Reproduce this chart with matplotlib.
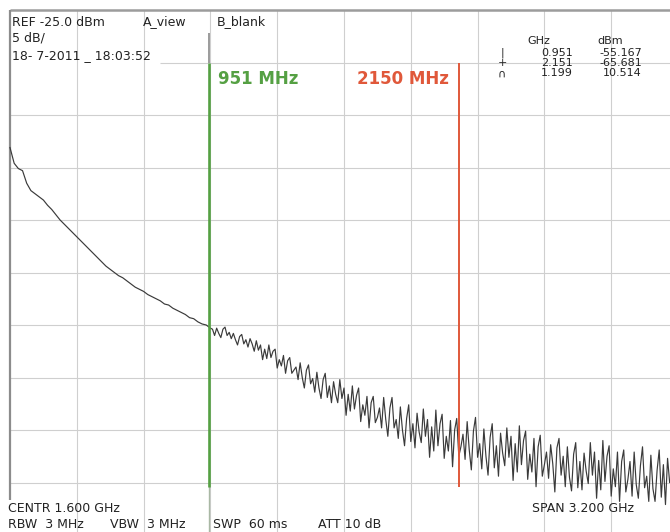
import numpy as np
import matplotlib.pyplot as plt

# --------------------------------------------------------------------------- #
# Analyzer settings / data.
# --------------------------------------------------------------------------- #
REF_DBM = -25.0
DB_PER_DIV = 5.0
N_DIV_Y = 9
SPAN_GHZ = 3.2
N_DIV_X = 10

# smooth roll-off: sweep points 0.00 .. 0.96 GHz every 0.02 GHz
ROLLOFF_START, ROLLOFF_STEP = 0.00, 0.02
rolloff_dbm = [
    -38.1, -39.6, -40.1, -40.3, -41.5, -42.2, -42.5, -42.8, -43.1, -43.6,
    -44.0, -44.5, -45.0, -45.4, -45.8, -46.2, -46.6, -47.0, -47.4, -47.8,
    -48.2, -48.6, -49.0, -49.4, -49.7, -50.0, -50.3, -50.5, -50.8, -51.1,
    -51.4, -51.6, -51.8, -52.1, -52.3, -52.5, -52.7, -53.0, -53.1, -53.4,
    -53.6, -53.8, -54.0, -54.3, -54.4, -54.7, -54.9, -55.0, -55.3,
]

# noise floor: sweep points 0.97 .. 3.16 GHz every 0.01 GHz
FLOOR_START, FLOOR_STEP = 0.97, 0.01
floor_dbm = [
    -55.4, -56.0, -55.3, -55.8, -56.2, -55.4, -55.2, -56.0, -55.7, -56.3,
    -55.8, -56.4, -56.9, -56.1, -55.9, -56.8, -56.4, -57.1, -56.3, -56.8,
    -57.5, -56.5, -57.4, -56.9, -58.3, -57.3, -58.2, -56.9, -58.1, -57.5,
    -57.3, -59.1, -58.3, -58.9, -57.9, -59.6, -58.4, -58.1, -59.6, -59.3,
    -59.0, -60.2, -58.6, -60.0, -61.0, -59.3, -58.8, -60.6, -60.1, -61.4,
    -59.5, -61.0, -62.0, -60.2, -59.6, -61.9, -60.8, -62.4, -60.4, -61.6,
    -62.4, -60.2, -62.0, -61.0, -63.6, -61.6, -63.2, -60.8, -63.0, -61.7,
    -61.0, -64.2, -62.6, -63.6, -61.8, -64.8, -62.4, -61.8, -64.3, -63.8,
    -62.9, -64.8, -61.9, -64.0, -65.6, -62.9, -61.9, -64.8, -64.0, -65.8,
    -62.8, -65.0, -66.5, -63.9, -62.6, -66.1, -64.4, -66.7, -63.4, -65.2,
    -66.2, -63.0, -65.6, -64.0, -67.6, -64.7, -67.0, -63.1, -66.5, -64.4,
    -63.5, -67.7, -65.6, -67.0, -64.1, -68.5, -65.0, -63.9, -67.5, -66.6,
    -65.4, -67.8, -64.2, -66.9, -68.8, -65.1, -63.8, -67.6, -66.3, -68.7,
    -64.9, -67.5, -69.3, -65.7, -64.4, -68.6, -66.5, -69.4, -65.3, -67.2,
    -68.4, -64.8, -67.6, -65.6, -69.8, -66.3, -69.0, -64.6, -68.3, -66.0,
    -65.1, -69.7, -67.3, -69.0, -65.8, -70.4, -66.6, -65.5, -69.4, -68.3,
    -67.1, -69.6, -66.4, -68.2, -70.9, -66.7, -65.8, -69.3, -67.5, -70.4,
    -66.6, -69.5, -70.8, -67.3, -66.2, -70.5, -68.0, -70.7, -67.2, -68.9,
    -70.1, -66.2, -69.3, -67.1, -71.5, -67.9, -70.7, -66.0, -69.9, -67.5,
    -66.5, -71.3, -68.7, -70.4, -67.1, -71.8, -68.0, -66.9, -70.9, -69.7,
    -68.0, -71.3, -67.1, -70.2, -71.5, -68.4, -66.6, -70.5, -69.4, -71.8,
    -67.4, -70.6, -71.8, -68.8, -66.9, -71.4, -68.3, -72.1, -67.7, -70.0,
]

marker_ghz = [0.951, 2.150]
marker_labels = ["951 MHz", "2150 MHz"]
marker_colors = ["#55a043", "#e0583a"]

table_symbols = ["|", "+", "\u2229"]
table_ghz = ["0.951", "2.151", "1.199"]
table_dbm = ["-55.167", "-65.681", "10.514"]

header_left = ["REF -25.0 dBm", "5 dB/", "18- 7-2011 _ 18:03:52"]
footer_items = ["RBW  3 MHz", "VBW  3 MHz", "SWP  60 ms", "ATT 10 dB"]

# --------------------------------------------------------------------------- #
# Screen geometry (pixels) -> data limits.
# --------------------------------------------------------------------------- #
W, H = 670, 532
GX0, GDX = 10.0, 66.8   # left edge of graticule, px per x-division
GY0, GDY = 10.0, 52.5   # top edge of graticule, px per y-division

ghz_per_px = SPAN_GHZ / N_DIV_X / GDX
db_per_px = DB_PER_DIV / GDY
xlim = (-GX0 * ghz_per_px, (W - GX0) * ghz_per_px)
ylim = (REF_DBM - (H - GY0) * db_per_px, REF_DBM + GY0 * db_per_px)

BODY = dict(family="DejaVu Sans", fontsize=9, color="#222222", va="center")


def px_text(fig, x, y, s, **kw):
    opts = dict(BODY)
    opts.update(kw)
    fig.text(x / W, 1 - y / H, s, **opts)


fig = plt.figure(figsize=(W / 100, H / 100), dpi=100)
ax = fig.add_axes([0, 0, 1, 1])
ax.set_xlim(*xlim)
ax.set_ylim(*ylim)
ax.axis("off")

# graticule
y_bottom = REF_DBM - N_DIV_Y * DB_PER_DIV
x_grid = [i * SPAN_GHZ / N_DIV_X for i in range(1, N_DIV_X + 1)]
ax.vlines(x_grid, ylim[0], REF_DBM, color="#cfcfcf", lw=0.8, zorder=1)
for k in range(1, N_DIV_Y + 1):
    y = REF_DBM - k * DB_PER_DIV
    x_start = 0.72 if k == 1 else 0.0
    ax.hlines(y, x_start, xlim[1], color="#cfcfcf", lw=0.8, zorder=1)
ax.hlines(REF_DBM, 0, xlim[1], color="#9c9c9c", lw=1.8, zorder=2)
ax.vlines(0, y_bottom - 1.7, REF_DBM, color="#8c8c8c", lw=1.6, zorder=2)

# trace
f_roll = ROLLOFF_START + np.arange(len(rolloff_dbm)) * ROLLOFF_STEP
f_floor = FLOOR_START + np.arange(len(floor_dbm)) * FLOOR_STEP
freq = np.concatenate([f_roll, f_floor])
level = np.concatenate([rolloff_dbm, floor_dbm])
ax.plot(freq, level, color="#3a3a3a", lw=0.85, zorder=3)

# markers
ax.vlines(marker_ghz[0], REF_DBM - 2.2, REF_DBM - DB_PER_DIV,
          color="#8a8a8a", lw=1.2, zorder=2)
ax.vlines(marker_ghz[0], ylim[0], y_bottom, color="#a9b8a4", lw=1.0, zorder=2)
ax.vlines(marker_ghz[0], y_bottom - 0.4, REF_DBM - DB_PER_DIV,
          color=marker_colors[0], lw=1.9, zorder=4)
ax.vlines(marker_ghz[1], y_bottom - 0.4, REF_DBM - DB_PER_DIV,
          color=marker_colors[1], lw=1.4, zorder=4)

px_text(fig, 218, 79, marker_labels[0], fontsize=12, fontweight="bold",
        color=marker_colors[0])
px_text(fig, 357, 79, marker_labels[1], fontsize=12, fontweight="bold",
        color=marker_colors[1])

# header
for s, y in zip(header_left, [22, 38, 56]):
    px_text(fig, 12, y, s)
px_text(fig, 143, 22, "A_view")
px_text(fig, 217, 22, "B_blank")

# marker table (one text block per column so rows sit 10 px apart)
TABLE = dict(fontsize=8, linespacing=1.05)
px_text(fig, 527, 41, "GHz", **TABLE)
px_text(fig, 597, 41, "dBm", **TABLE)
px_text(fig, 502, 63, "\n".join(table_symbols), ha="center",
        multialignment="center", **TABLE)
px_text(fig, 573, 63, "\n".join(table_ghz), ha="right",
        multialignment="right", **TABLE)
px_text(fig, 642, 63, "\n".join(table_dbm), ha="right",
        multialignment="right", **TABLE)

# footer
px_text(fig, 8, 508, "CENTR 1.600 GHz")
px_text(fig, 532, 508, "SPAN 3.200 GHz")
for s, x in zip(footer_items, [8, 110, 213, 318]):
    px_text(fig, x, 524, s)

fig.savefig("out.png", dpi=100, facecolor="white")
